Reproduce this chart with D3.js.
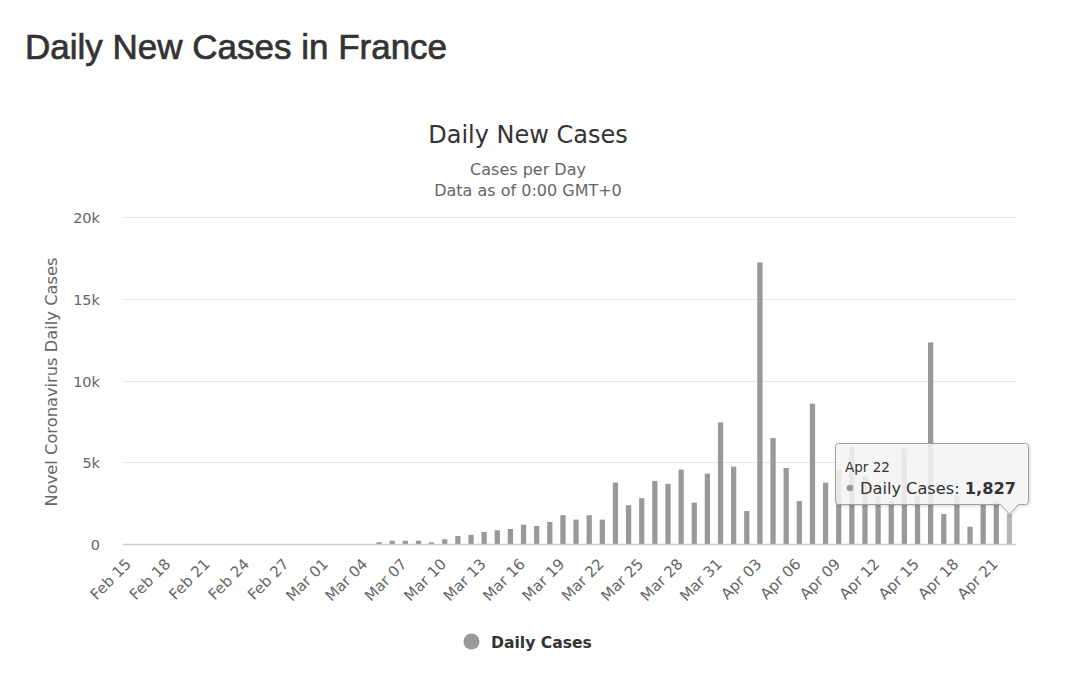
<!DOCTYPE html>
<html>
<head>
<meta charset="utf-8">
<script src="https://cdn.jsdelivr.net/npm/d3@7"></script>
<style>
  html, body { margin: 0; padding: 0; background: #fff; }
  svg { display: block; }
</style>
</head>
<body>
<svg id="chart" width="1080" height="682"></svg>
<script>
const categories = [
  "Feb 15","Feb 16","Feb 17","Feb 18","Feb 19","Feb 20","Feb 21","Feb 22","Feb 23","Feb 24",
  "Feb 25","Feb 26","Feb 27","Feb 28","Feb 29",
  "Mar 01","Mar 02","Mar 03","Mar 04","Mar 05","Mar 06","Mar 07","Mar 08","Mar 09","Mar 10",
  "Mar 11","Mar 12","Mar 13","Mar 14","Mar 15","Mar 16","Mar 17","Mar 18","Mar 19","Mar 20",
  "Mar 21","Mar 22","Mar 23","Mar 24","Mar 25","Mar 26","Mar 27","Mar 28","Mar 29","Mar 30","Mar 31",
  "Apr 01","Apr 02","Apr 03","Apr 04","Apr 05","Apr 06","Apr 07","Apr 08","Apr 09","Apr 10",
  "Apr 11","Apr 12","Apr 13","Apr 14","Apr 15","Apr 16","Apr 17","Apr 18","Apr 19","Apr 20",
  "Apr 21","Apr 22"
];
const dailyCases = [
  0,0,0,0,0,0,0,0,0,0,
  0,0,0,0,0,
  0,0,0,0,110,200,200,200,100,290,
  490,560,740,840,920,1180,1100,1350,1760,1490,
  1760,1490,3760,2370,2800,3860,3680,4550,2530,4300,7440,
  4730,2020,17220,6480,4650,2630,8580,3750,4550,5950,
  4150,2900,2650,5850,2950,12330,1830,2950,1060,2500,
  2650,1827
];
const yTicks = [0, 5000, 10000, 15000, 20000];
const yTickLabels = ["0", "5k", "10k", "15k", "20k"];
const seriesName = "Daily Cases";
const tooltipIndex = 67;

const svg = d3.select("#chart");
const font = "'DejaVu Sans', sans-serif";
const plotLeft = 123, plotRight = 1016, plotTop = 217, plotBottom = 544;

const x = d3.scaleBand().domain(categories).range([plotLeft, plotRight]).paddingInner(0.6).paddingOuter(0.3);
const y = d3.scaleLinear().domain([0, 20000]).range([plotBottom, plotTop]);

// Page title
svg.append("text").attr("x", 25).attr("y", 59)
  .attr("font-family", "'Liberation Sans', Arial, sans-serif").attr("font-size", 35)
  .attr("fill", "#333").attr("stroke", "#333").attr("stroke-width", 0.7)
  .text("Daily New Cases in France");

// Chart title and subtitle
svg.append("text").attr("x", 528).attr("y", 143).attr("text-anchor", "middle")
  .attr("font-family", font).attr("font-size", 24).attr("fill", "#333").text("Daily New Cases");
svg.append("text").attr("x", 528).attr("y", 175).attr("text-anchor", "middle")
  .attr("font-family", font).attr("font-size", 16).attr("fill", "#666").text("Cases per Day");
svg.append("text").attr("x", 528).attr("y", 196).attr("text-anchor", "middle")
  .attr("font-family", font).attr("font-size", 16).attr("fill", "#666").text("Data as of 0:00 GMT+0");

// Gridlines
svg.append("g").selectAll("line").data(yTicks.filter(d => d > 0)).join("line")
  .attr("x1", plotLeft).attr("x2", plotRight)
  .attr("y1", d => Math.round(y(d)) + 0.5).attr("y2", d => Math.round(y(d)) + 0.5)
  .attr("stroke", "#e6e6e6").attr("stroke-width", 1);

// Y labels
svg.append("g").selectAll("text").data(yTicks).join("text")
  .attr("x", 100).attr("y", d => y(d) + 6).attr("text-anchor", "end")
  .attr("font-family", font).attr("font-size", 14.5).attr("fill", "#666")
  .text((d, i) => yTickLabels[i]);

// Y title
svg.append("text").attr("transform", "translate(57,382) rotate(-90)")
  .attr("text-anchor", "middle").attr("font-family", font).attr("font-size", 16.3)
  .attr("fill", "#666").text("Novel Coronavirus Daily Cases");

// Bars
svg.append("g").selectAll("rect").data(dailyCases).join("rect")
  .attr("x", (d, i) => x(categories[i]))
  .attr("width", x.bandwidth())
  .attr("y", d => y(d))
  .attr("height", d => plotBottom - y(d))
  .attr("fill", (d, i) => i === tooltipIndex ? "#b5b5b5" : "#999");

// X axis line
svg.append("line").attr("x1", plotLeft).attr("x2", plotRight).attr("y1", plotBottom + 0.5).attr("y2", plotBottom + 0.5)
  .attr("stroke", "#ccc").attr("stroke-width", 1.5);

// X labels
svg.append("g").selectAll("text").data(categories.filter((d, i) => i % 3 === 0)).join("text")
  .attr("transform", d => `translate(${x(d) + x.bandwidth() / 2 + 2.5},565) rotate(-45)`)
  .attr("text-anchor", "end").attr("font-family", font).attr("font-size", 15)
  .attr("fill", "#666").text(d => d);

// Legend
svg.append("circle").attr("cx", 471.5).attr("cy", 641.5).attr("r", 8).attr("fill", "#999");
svg.append("text").attr("x", 491).attr("y", 648).attr("font-family", font).attr("font-size", 15.6)
  .attr("font-weight", "bold").attr("fill", "#333").text(seriesName);

// Tooltip
const defs = svg.append("defs");
const f = defs.append("filter").attr("id", "shadow").attr("x", "-10%").attr("y", "-10%").attr("width", "130%").attr("height", "140%");
f.append("feDropShadow").attr("dx", 1).attr("dy", 1).attr("stdDeviation", 1.5).attr("flood-color", "#000").attr("flood-opacity", 0.18);

const tx = x(categories[tooltipIndex]) + x.bandwidth() / 2;
const ty = y(dailyCases[tooltipIndex]);
const bx0 = 835.5, bx1 = 1028.5, by0 = 443.5, by1 = 504.5, r = 3;
const path = `M${bx0 + r},${by0} L${bx1 - r},${by0} Q${bx1},${by0} ${bx1},${by0 + r} L${bx1},${by1 - r} Q${bx1},${by1} ${bx1 - r},${by1}
  L${tx + 9},${by1} L${tx},${ty} L${tx - 9},${by1} L${bx0 + r},${by1} Q${bx0},${by1} ${bx0},${by1 - r}
  L${bx0},${by0 + r} Q${bx0},${by0} ${bx0 + r},${by0} Z`;
svg.append("path").attr("d", path).attr("fill", "rgba(247,247,247,0.85)")
  .attr("stroke", "#a0a0a0").attr("stroke-width", 1).attr("filter", "url(#shadow)");

svg.append("text").attr("x", 845).attr("y", 472).attr("font-family", font).attr("font-size", 13.5)
  .attr("fill", "#333").text(categories[tooltipIndex]);
svg.append("circle").attr("cx", 850).attr("cy", 488).attr("r", 3.3).attr("fill", "#999");
const tt = svg.append("text").attr("x", 860).attr("y", 494).attr("font-family", font).attr("font-size", 16.2).attr("fill", "#333");
tt.append("tspan").text(seriesName + ": ");
tt.append("tspan").attr("font-weight", "bold").text(d3.format(",")(dailyCases[tooltipIndex]));
</script>
</body>
</html>
